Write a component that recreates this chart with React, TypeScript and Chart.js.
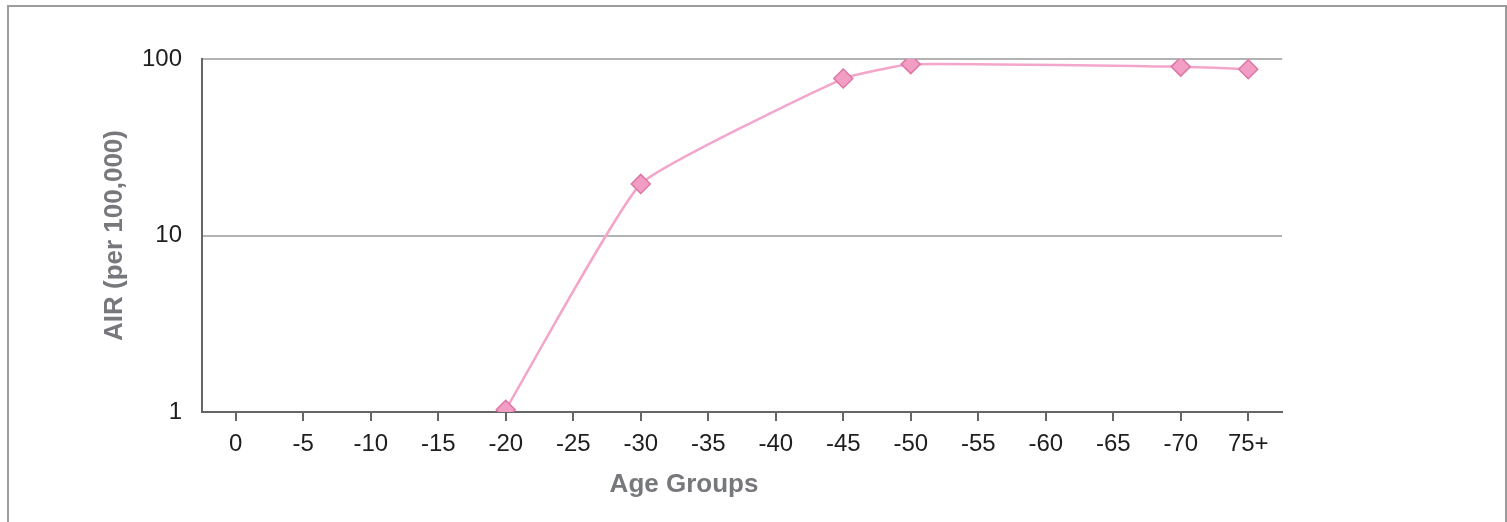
import React, { useEffect, useRef } from "react";
import { Chart, registerables } from "chart.js";

Chart.register(...registerables);

const categories: string[] = ["0", "-5", "-10", "-15", "-20", "-25", "-30", "-35", "-40", "-45", "-50", "-55", "-60", "-65", "-70", "75+"];
const airValues: (number | null)[] = [null, null, null, null, 1.03, null, 19.6, null, null, 77.5, 93.5, null, null, null, 90.5, 87.5];
const yTickValues: number[] = [1, 10, 100];
const xTitle = "Age Groups";
const yTitle = "AIR (per 100,000)";

export default function App() {
  const canvasRef = useRef<HTMLCanvasElement | null>(null);

  useEffect(() => {
    document.body.style.overflow = "hidden";
    const canvas = canvasRef.current;
    if (!canvas) return;
    const chart = new Chart(canvas, {
      type: "line",
      data: {
        labels: categories,
        datasets: [
          {
            label: "AIR",
            data: airValues,
            spanGaps: true,
            borderColor: "rgb(244,166,202)",
            borderWidth: 2.5,
            tension: 0.12,
            pointStyle: "rectRot",
            pointRadius: 9.5,
            pointHoverRadius: 9.5,
            pointBackgroundColor: "rgb(242,158,196)",
            pointBorderColor: "rgb(222,118,166)",
            pointBorderWidth: 1.5,
          },
        ],
      },
      options: {
        animation: false,
        responsive: false,
        maintainAspectRatio: false,
        layout: { padding: { left: 86, right: 225, top: 59, bottom: 21.4 } },
        plugins: {
          legend: { display: false },
          tooltip: { enabled: false },
          title: {
            display: true,
            text: xTitle,
            position: "bottom",
            color: "#77787c",
            font: { family: "'Liberation Sans', Arial, sans-serif", size: 26, weight: "bold" },
            padding: { top: 0, bottom: 0 },
          },
        },
        scales: {
          x: {
            type: "category",
            offset: true,
            grid: {
              display: true,
              drawOnChartArea: false,
              drawTicks: true,
              tickLength: 9,
              color: "#666666",
              lineWidth: 2,
              offset: false,
            },
            border: { display: true, color: "#666666", width: 2 },
            ticks: {
              color: "#1e1e1e",
              font: { family: "'Liberation Sans', Arial, sans-serif", size: 24 },
              padding: 9,
              maxRotation: 0,
              autoSkip: false,
            },
            afterFit: (scale: any) => {
              scale.height = 57.4;
            },
          },
          y: {
            type: "logarithmic",
            min: 1,
            max: 100,
            afterBuildTicks: (scale: any) => {
              scale.ticks = yTickValues.map((v) => ({ value: v }));
            },
            grid: {
              display: true,
              drawTicks: false,
              color: "#b3b3b3",
              lineWidth: 2,
            },
            border: { display: true, color: "#666666", width: 2 },
            ticks: {
              color: "#1e1e1e",
              font: { family: "'Liberation Sans', Arial, sans-serif", size: 24 },
              padding: 20,
              callback: (v: any) => String(v),
            },
            title: {
              display: true,
              text: yTitle,
              color: "#77787c",
              font: { family: "'Liberation Sans', Arial, sans-serif", size: 26, weight: "bold" },
              padding: { top: 13.4, bottom: 0 },
            },
            afterFit: (scale: any) => {
              scale.width = 116;
            },
          },
        },
      },
    });
    return () => chart.destroy();
  }, []);

  return (
    <div>
      <div
        style={{
          position: "fixed",
          left: 7,
          top: 5,
          width: 1500,
          height: 560,
          border: "2px solid #9c9c9c",
          boxSizing: "border-box",
        }}
      />
      <canvas
        ref={canvasRef}
        width={1507}
        height={522}
        style={{ position: "fixed", left: 0, top: 0, width: 1507, height: 522 }}
      />
    </div>
  );
}
